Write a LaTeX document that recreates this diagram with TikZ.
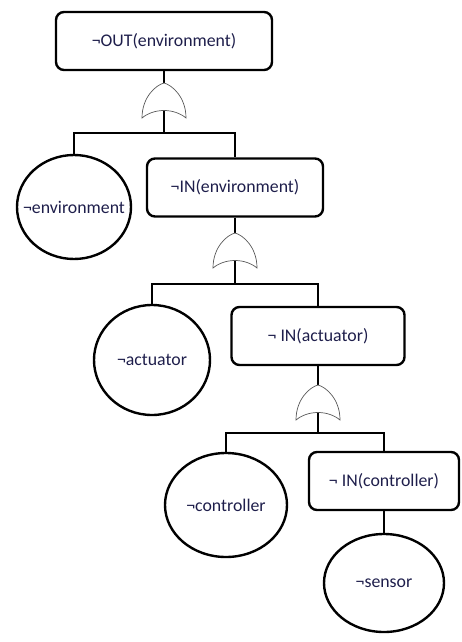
\documentclass[tikz,border=0pt]{standalone}
\usepackage{fontspec}
\setmainfont{Carlito}
\usetikzlibrary{shapes.geometric}
\definecolor{labelink}{RGB}{30,30,75}
\tikzset{
  txt/.style={font=\fontsize{17.8}{20}\selectfont, text=labelink},
  event/.style={draw, line width=2.4pt, rounded corners=8pt, minimum width=#1,
    minimum height=58pt, inner sep=0pt, txt},
  basic/.style={draw, ellipse, line width=2.4pt, inner sep=0pt},
  link/.style={line width=2.4pt},
  orgate/.pic={
    \draw[line width=0.7pt, draw=black!65, fill=white]
      (0,0) .. controls (-8,2) and (-22,14) .. (-22,35)
      .. controls (-10,25) and (10,25) .. (22,35)
      .. controls (22,14) and (8,2) .. cycle;
  }
}
\begin{document}
\begin{tikzpicture}[x=1pt,y=-1pt]
\useasboundingbox (0,0) rectangle (461,642);

% events and basic causes
\node[event=216pt] (b1) at (164,41) {¬OUT(environment)};
\node[basic, minimum width=114pt, minimum height=104pt,
  label={[txt]center:¬environment}] (e1) at (74,207) {};
\node[event=176pt] (b2) at (235,187.5) {¬IN(environment)};
\node[basic, minimum width=116pt, minimum height=110pt,
  label={[txt]center:¬actuator}] (e2) at (152,360) {};
\node[event=173pt] (b3) at (318,336) {¬ IN(actuator)};
\node[basic, minimum width=122pt, minimum height=104pt,
  label={[txt]center:¬controller}] (e3) at (226,505) {};
\node[event=150pt] (b4) at (384,481) {¬ IN(controller)};
\node[basic, minimum width=120pt, minimum height=98pt,
  label={[txt]center:¬sensor}] (e4) at (384,583) {};

% junctions under the gates
\coordinate (j1) at (164,133);
\coordinate (j2) at (235,284);
\coordinate (j3) at (318,433);

% connectors
\draw[link] (b1.south) -- (j1);
\draw[link] (e1.north) |- (j1) -| (b2.north);
\draw[link] (b2.south) -- (j2);
\draw[link] (e2.north) |- (j2) -| (b3.north);
\draw[link] (b3.south) -- (j3);
\draw[link] (e3.north) |- (j3) -| (b4.north);
\draw[link] (b4.south) -- (e4.north);

% OR gates
\pic at (164,83) {orgate};
\pic at (235,233) {orgate};
\pic at (318,385) {orgate};
\end{tikzpicture}
\end{document}
